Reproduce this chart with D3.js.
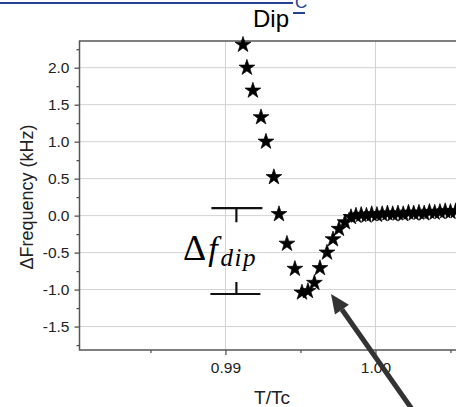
<!DOCTYPE html>
<html>
<head>
<meta charset="utf-8">
<script src="https://cdn.jsdelivr.net/npm/d3@7"></script>
<style>
  body { margin: 0; background: #fff; }
  svg { display: block; font-family: "Liberation Sans", Arial, sans-serif; }
</style>
</head>
<body>
<div id="chart"></div>
<script>
// T/Tc for each measured point
const tempRatio = [
  0.99117, 0.99143, 0.99183, 0.99237, 0.99270, 0.99323, 0.99357, 0.99410, 0.99463, 0.99510,
  0.99550, 0.99593, 0.99630, 0.99677, 0.99717, 0.99757, 0.99797, 0.99837,
  0.99870, 0.99905, 0.99940, 0.99975, 1.00010, 1.00045, 1.00080, 1.00115, 1.00150, 1.00185,
  1.00220, 1.00255, 1.00290, 1.00325, 1.00360, 1.00395, 1.00430, 1.00465, 1.00500, 1.00535
];
// frequency shift (kHz)
const freqShift = [
  2.31, 2.00, 1.69, 1.33, 1.00, 0.52, 0.02, -0.38, -0.72, -1.04,
  -1.02, -0.91, -0.71, -0.50, -0.32, -0.18, -0.09, -0.02,
  0.00, 0.01, 0.00, 0.02, 0.01, 0.02, 0.03, 0.02, 0.03, 0.02,
  0.04, 0.03, 0.04, 0.03, 0.05, 0.04, 0.05, 0.06, 0.05, 0.06
];
const yTicks = [-1.5, -1.0, -0.5, 0.0, 0.5, 1.0, 1.5, 2.0];
const yMinor = [-1.75, -1.25, -0.75, -0.25, 0.25, 0.75, 1.25, 1.75, 2.25];
const xTicks = [0.99, 1.00];
const xMinor = [0.985, 0.995, 1.005];
const dipLevels = [0.10, -1.06];   // ends of the Δf_dip bracket

const width = 456, height = 407;
const plotL = 79.5, plotR = 463.5, plotT = 41, plotB = 350;

const svg = d3.select('#chart').append('svg')
  .attr('width', width)
  .attr('height', height);

const x = d3.scaleLinear().domain([0.98027, 1.00587]).range([plotL, plotR]);
const y = d3.scaleLinear().domain([-1.817, 2.361]).range([plotB, plotT]);

// grid
svg.append('g').selectAll('line')
  .data(yTicks).enter().append('line')
    .attr('x1', plotL).attr('x2', plotR)
    .attr('y1', d => y(d)).attr('y2', d => y(d))
    .attr('stroke', '#d2d2d2').attr('stroke-width', 1);
svg.append('g').selectAll('line')
  .data(xTicks).enter().append('line')
    .attr('y1', plotT).attr('y2', plotB)
    .attr('x1', d => x(d)).attr('x2', d => x(d))
    .attr('stroke', '#d2d2d2').attr('stroke-width', 1);

// axes
const styleAxis = g => {
  g.select('.domain').remove();
  g.selectAll('line').attr('stroke', '#444').attr('stroke-width', 1.2);
  g.selectAll('text').attr('fill', '#222').style('font-size', '15.5px');
};
svg.append('g')
  .attr('transform', `translate(${plotL},0)`)
  .call(d3.axisLeft(y).tickValues(yTicks).tickSize(5).tickPadding(5).tickFormat(d => d.toFixed(1)))
  .call(styleAxis);
svg.append('g')
  .attr('transform', `translate(${plotL},0)`)
  .call(d3.axisLeft(y).tickValues(yMinor).tickSize(3).tickFormat(''))
  .call(styleAxis);
svg.append('g')
  .attr('transform', `translate(0,${plotB})`)
  .call(d3.axisBottom(x).tickValues(xTicks).tickSize(5).tickPadding(7).tickFormat(d => d.toFixed(2)))
  .call(styleAxis);
svg.append('g')
  .attr('transform', `translate(0,${plotB})`)
  .call(d3.axisBottom(x).tickValues(xMinor).tickSize(3).tickFormat(''))
  .call(styleAxis);

// frame
svg.append('rect')
  .attr('x', plotL).attr('y', plotT)
  .attr('width', plotR - plotL).attr('height', plotB - plotT)
  .attr('fill', 'none').attr('stroke', '#555').attr('stroke-width', 1.5);

// axis titles
svg.append('text')
  .attr('transform', 'translate(33,197) rotate(-90)')
  .attr('text-anchor', 'middle')
  .style('font-size', '18px')
  .attr('fill', '#222')
  .text('ΔFrequency (kHz)');
svg.append('text')
  .attr('x', 272).attr('y', 404)
  .attr('text-anchor', 'middle')
  .style('font-size', '19px')
  .attr('fill', '#222')
  .text('T/Tc');

// stars
const star = d3.symbol().type(d3.symbolStar).size(78);
svg.append('g').selectAll('path')
  .data(tempRatio.map((t, i) => [t, freqShift[i]]))
  .enter().append('path')
    .attr('d', star)
    .attr('transform', d => `translate(${x(d[0])},${y(d[1])})`)
    .attr('fill', '#000')
    .attr('stroke', '#000').attr('stroke-width', 0.7).attr('stroke-linejoin', 'round');

// Δf_dip bracket
const bx = x(0.99073);
const bracket = svg.append('g').attr('stroke', '#111').attr('stroke-width', 2.2);
bracket.append('line').attr('x1', bx - 25).attr('x2', bx + 26)
  .attr('y1', y(dipLevels[0])).attr('y2', y(dipLevels[0]));
bracket.append('line').attr('x1', bx).attr('x2', bx)
  .attr('y1', y(dipLevels[0])).attr('y2', y(dipLevels[0]) + 14);
bracket.append('line').attr('x1', bx - 26).attr('x2', bx + 24)
  .attr('y1', y(dipLevels[1])).attr('y2', y(dipLevels[1]));
bracket.append('line').attr('x1', bx).attr('x2', bx)
  .attr('y1', y(dipLevels[1])).attr('y2', y(dipLevels[1]) - 12);

const label = svg.append('text')
  .attr('x', 183).attr('y', 260)
  .attr('fill', '#000')
  .style('font-family', '"Liberation Serif", "DejaVu Serif", serif');
label.append('tspan').style('font-size', '36px').text('Δ');
label.append('tspan').attr('dx', 2).style('font-size', '34px').style('font-style', 'italic').text('f');
label.append('tspan').attr('dy', 6).attr('dx', 3).style('font-size', '25px').style('font-style', 'italic')
  .style('letter-spacing', '1.5px').text('dip');

// arrow
const tip = [331, 294], tail = [414, 412];
const ang = Math.atan2(tail[1] - tip[1], tail[0] - tip[0]);
const ux = Math.cos(ang), uy = Math.sin(ang);
const hl = 19, hw = 8.5;
const base = [tip[0] + ux * hl, tip[1] + uy * hl];
svg.append('line')
  .attr('x1', tail[0]).attr('y1', tail[1])
  .attr('x2', base[0]).attr('y2', base[1])
  .attr('stroke', '#333').attr('stroke-width', 5);
svg.append('path')
  .attr('d', `M${tip[0]},${tip[1]}L${base[0] - uy * hw},${base[1] + ux * hw}L${base[0] + uy * hw},${base[1] - ux * hw}Z`)
  .attr('fill', '#333');

// cropped header from the page above
svg.append('line')
  .attr('x1', 0).attr('x2', 293).attr('y1', 3).attr('y2', 3)
  .attr('stroke', '#24428f').attr('stroke-width', 2);
svg.append('text')
  .attr('x', 295).attr('y', 8)
  .style('font-size', '17px')
  .attr('fill', '#24428f')
  .text('C');
svg.append('line')
  .attr('x1', 293).attr('x2', 305).attr('y1', 13).attr('y2', 13)
  .attr('stroke', '#24428f').attr('stroke-width', 2);
svg.append('text')
  .attr('x', 253).attr('y', 27)
  .style('font-size', '24px')
  .attr('fill', '#000')
  .text('Dip');
</script>
</body>
</html>
